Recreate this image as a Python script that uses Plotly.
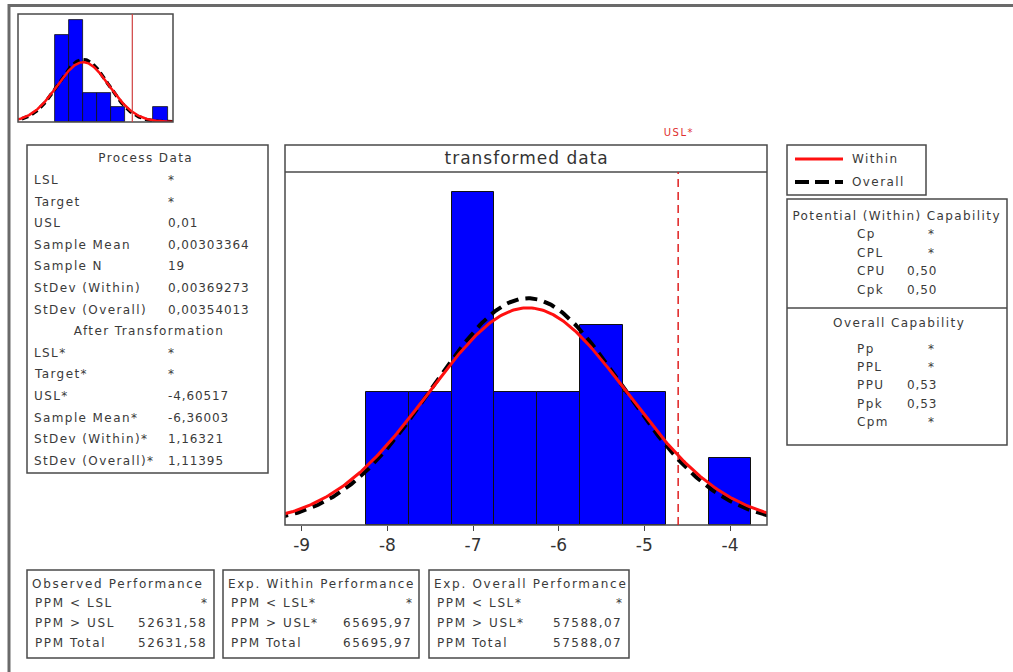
import numpy as np
import plotly.graph_objects as go

W, H = 1013, 672
def px(x): return x / W
def py(y): return 1 - y / H

# ---------------- data ----------------
# transformed data histogram (ln scale)
bin_centers = [-8.0, -7.5, -7.0, -6.5, -6.0, -5.5, -5.0, -4.5, -4.0]
bin_counts = [2, 2, 5, 2, 2, 3, 2, 0, 1]
bin_width = 0.5
usl_t = -4.60517
mean_t = -6.36003
sd_within_t = 1.16321
sd_overall_t = 1.11395
n_obs = 19

# original data histogram (small inset)
raw_centers = [0.0, 0.002, 0.004, 0.006, 0.008, 0.010, 0.012, 0.014]
raw_counts = [6, 7, 2, 2, 1, 0, 0, 1]
raw_width = 0.002
usl_raw = 0.01
mean_raw = 0.00303364
sd_within_raw = 0.00369273
sd_overall_raw = 0.00354013

x_ticks = [-9, -8, -7, -6, -5, -4]
x_tick_text = ["-9", "-8", "-7", "-6", "-5", "-4"]

process_labels = ["LSL", "Target", "USL", "Sample Mean", "Sample N", "StDev (Within)", "StDev (Overall)"]
process_values = ["*", "*", "0,01", "0,00303364", "19", "0,00369273", "0,00354013"]
trans_labels = ["LSL*", "Target*", "USL*", "Sample Mean*", "StDev (Within)*", "StDev (Overall)*"]
trans_values = ["*", "*", "-4,60517", "-6,36003", "1,16321", "1,11395"]

within_labels = ["Cp", "CPL", "CPU", "Cpk"]
within_values = ["*", "*", "0,50", "0,50"]
overall_labels = ["Pp", "PPL", "PPU", "Ppk", "Cpm"]
overall_values = ["*", "*", "0,53", "0,53", "*"]

perf_titles = ["Observed Performance", "Exp. Within Performance", "Exp. Overall Performance"]
perf_labels = [["PPM < LSL", "PPM > USL", "PPM Total"],
               ["PPM < LSL*", "PPM > USL*", "PPM Total"],
               ["PPM < LSL*", "PPM > USL*", "PPM Total"]]
perf_values = [["*", "52631,58", "52631,58"],
               ["*", "65695,97", "65695,97"],
               ["*", "57588,07", "57588,07"]]

# ---------------- figure ----------------
FONT = "DejaVu Sans"
TXT = "#3a3a3a"
BOX = "#4a4a4a"
fig = go.Figure()

def normal_curve(xmin, xmax, mu, sd, scale):
    xs = np.linspace(xmin, xmax, 300)
    ys = scale / (sd * np.sqrt(2 * np.pi)) * np.exp(-0.5 * ((xs - mu) / sd) ** 2)
    return xs, ys

# main histogram
xr = [-9.195, -3.568]
bc = [c for c, n in zip(bin_centers, bin_counts) if n > 0]
bn = [n for n in bin_counts if n > 0]
fig.add_trace(go.Bar(x=bc, y=bn, width=bin_width, marker=dict(color="#0000FF", line=dict(color="#111111", width=1)),
                     xaxis="x", yaxis="y", showlegend=False))
xs, ys = normal_curve(xr[0] - 0.1, xr[1] + 0.1, mean_t, sd_overall_t, n_obs * bin_width)
fig.add_trace(go.Scatter(x=xs, y=ys, mode="lines", line=dict(color="black", width=4, dash="12px,7px"),
                         xaxis="x", yaxis="y", showlegend=False))
xs, ys = normal_curve(xr[0] - 0.1, xr[1] + 0.1, mean_t, sd_within_t, n_obs * bin_width)
fig.add_trace(go.Scatter(x=xs, y=ys, mode="lines", line=dict(color="#FF1010", width=3),
                         xaxis="x", yaxis="y", showlegend=False))

# inset histogram
xr2 = [-0.00621, 0.01577]
rc = [c for c, n in zip(raw_centers, raw_counts) if n > 0]
rn = [n for n in raw_counts if n > 0]
fig.add_trace(go.Bar(x=rc, y=rn, width=raw_width, marker=dict(color="#0000FF", line=dict(color="#111111", width=0.8)),
                     xaxis="x2", yaxis="y2", showlegend=False))
xs, ys = normal_curve(xr2[0] - 0.001, xr2[1] + 0.001, mean_raw, sd_overall_raw, n_obs * raw_width)
fig.add_trace(go.Scatter(x=xs, y=ys, mode="lines", line=dict(color="black", width=3.5, dash="7px,4px"),
                         xaxis="x2", yaxis="y2", showlegend=False))
xs, ys = normal_curve(xr2[0] - 0.001, xr2[1] + 0.001, mean_raw, sd_within_raw, n_obs * raw_width)
fig.add_trace(go.Scatter(x=xs, y=ys, mode="lines", line=dict(color="#FF1010", width=2.5),
                         xaxis="x2", yaxis="y2", showlegend=False))

shapes = []
annotations = []

def rect(x0, y0, x1, y1, color=BOX, width=1.5):
    shapes.append(dict(type="rect", xref="paper", yref="paper", x0=px(x0), x1=px(x1), y0=py(y0), y1=py(y1),
                       line=dict(color=color, width=width), fillcolor="rgba(0,0,0,0)", layer="above"))

def hline(x0, x1, y, color=BOX, width=1.5, dash=None):
    ln = dict(color=color, width=width)
    if dash:
        ln["dash"] = dash
    shapes.append(dict(type="line", xref="paper", yref="paper", x0=px(x0), x1=px(x1), y0=py(y), y1=py(y),
                       line=ln, layer="above"))

def text(x, y, s, anchor="left", size=12, color=TXT, ls=1.4):
    annotations.append(dict(xref="paper", yref="paper", x=px(x), y=py(y), text=s, showarrow=False,
                            xanchor=anchor, yanchor="middle", name="ls%.2f" % ls,
                            font=dict(family=FONT, size=size, color=color)))

# outer frame (right and bottom edges fall outside the picture)
shapes.append(dict(type="rect", xref="paper", yref="paper", x0=px(9), x1=px(1030), y0=py(700), y1=py(5.5),
                   line=dict(color="#6a6a6a", width=3), fillcolor="rgba(0,0,0,0)"))

# main plot frame + header
rect(285, 145, 767, 525)
hline(285, 767, 172)
text(526, 158, "transformed data", anchor="center", size=17, color="#333333", ls=1.0)
# USL* line
shapes.append(dict(type="line", xref="x", yref="y domain", x0=usl_t, x1=usl_t, y0=0, y1=1,
                   line=dict(color="#E02020", width=1.5, dash="8px,5px"), layer="above"))
annotations.append(dict(xref="x", yref="paper", x=usl_t, y=py(133), text="USL*", showarrow=False,
                        xanchor="center", yanchor="middle", name="ls1.50",
                        font=dict(family=FONT, size=10, color="#E03030")))

# inset frame + USL
rect(18, 14, 173, 122)
shapes.append(dict(type="line", xref="x2", yref="y2 domain", x0=usl_raw, x1=usl_raw, y0=0, y1=1,
                   line=dict(color="#D04040", width=1.2)))

# process data box
rect(27, 145, 268, 473)
text(145, 158, "Process Data", anchor="center")
y0 = 180
step = 21.6
for i, (l, v) in enumerate(zip(process_labels, process_values)):
    yy = y0 + i * step
    text(32, yy, l)
    if v == "*":
        text(171, yy, v, anchor="center", ls=0)
    else:
        text(166, yy, v, ls=0.9)
text(148, y0 + 7 * step, "After Transformation", anchor="center")
for i, (l, v) in enumerate(zip(trans_labels, trans_values)):
    yy = y0 + (8 + i) * step
    text(32, yy, l)
    if v == "*":
        text(171, yy, v, anchor="center", ls=0)
    else:
        text(166, yy, v, ls=0.9)

# legend box
rect(787, 145, 926, 195)
hline(795, 843, 159, color="#FF1010", width=3)
hline(795, 843, 182, color="black", width=4, dash="14px,6px")
text(850, 159, "Within")
text(850, 182, "Overall")

# capability box
rect(787, 199, 1007, 445)
hline(787, 1007, 308)
text(896, 216, "Potential (Within) Capability", anchor="center")
for i, (l, v) in enumerate(zip(within_labels, within_values)):
    yy = 234.5 + i * 18.4
    text(855, yy, l)
    if v == "*":
        text(931, yy, v, anchor="center", ls=0)
    else:
        text(905, yy, v, ls=0.9)
text(898, 323, "Overall Capability", anchor="center")
for i, (l, v) in enumerate(zip(overall_labels, overall_values)):
    yy = 348.5 + i * 18.4
    text(855, yy, l)
    if v == "*":
        text(931, yy, v, anchor="center", ls=0)
    else:
        text(905, yy, v, ls=0.9)

# performance boxes
boxes = [(27, 214), (223, 419), (429, 629)]
for (bx0, bx1), t, labs, vals in zip(boxes, perf_titles, perf_labels, perf_values):
    rect(bx0, 570, bx1, 658)
    text(bx0 + 3, 584, t, ls=1.7)
    for j, (l, v) in enumerate(zip(labs, vals)):
        yy = 603 + j * 20
        text(bx0 + 6, yy, l, ls=1.6)
        text(bx1 - 5, yy, v, anchor="right", ls=1.5 if v != "*" else 0)

fig.update_layout(
    width=W, height=H, margin=dict(l=0, r=0, t=0, b=0),
    paper_bgcolor="white", plot_bgcolor="white",
    bargap=0, showlegend=False,
    xaxis=dict(domain=[px(285), px(767)], range=xr, tickvals=x_ticks, ticktext=x_tick_text,
               ticks="outside", ticklen=5, tickcolor="#444", showgrid=False, zeroline=False, showline=False,
               tickfont=dict(family=FONT, size=17, color="#333333")),
    yaxis=dict(domain=[py(525), py(172)], range=[0, 5.295], visible=False),
    xaxis2=dict(domain=[px(18), px(173)], range=xr2, visible=False, anchor="y2"),
    yaxis2=dict(domain=[py(122), py(14)], range=[0, 7.41], visible=False, anchor="x2"),
    shapes=shapes, annotations=annotations,
)

# widen letter spacing of the annotation texts (Minitab-like rendering), keeping their anchors
post_js = """
var gd = document.getElementById('{plot_id}');
var anns = gd.layout.annotations || [];
gd.querySelectorAll('g.annotation').forEach(function(g){
  var idx = +g.getAttribute('data-index');
  var ann = anns[idx];
  if (!ann || !ann.name) return;
  var ls = parseFloat(ann.name.slice(2));
  if (!(ls > 0)) return;
  var t = g.querySelector('text.annotation-text');
  if (!t) return;
  var b0 = t.getBBox();
  t.style.letterSpacing = ls + 'px';
  var b1 = t.getBBox();
  var dx = 0;
  if (ann.xanchor === 'left') dx = b0.x - b1.x;
  else if (ann.xanchor === 'right') dx = (b0.x + b0.width) - (b1.x + b1.width);
  else dx = (b0.x + b0.width / 2) - (b1.x + b1.width / 2) + ls / 2;
  var x = parseFloat(t.getAttribute('x') || '0');
  t.setAttribute('x', x + dx);
});
"""

fig.write_html("out.html", post_script=post_js)
